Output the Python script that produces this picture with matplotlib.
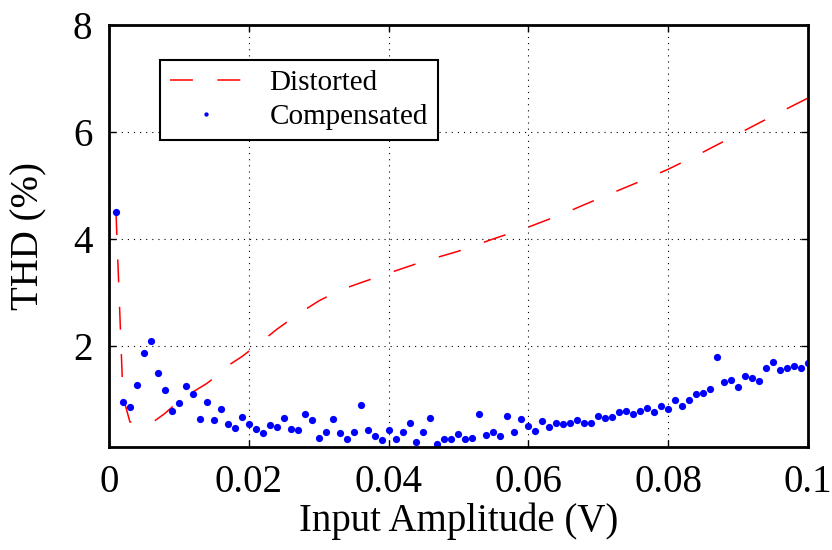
import numpy as np
import matplotlib
matplotlib.use('Agg')
import matplotlib.pyplot as plt

# THD vs input amplitude, distorted vs compensated
plt.rcParams['font.family'] = ['Liberation Serif', 'DejaVu Serif']

dist_x = [0.001, 0.002, 0.003, 0.004, 0.005, 0.006, 0.008, 0.010, 0.012, 0.014,
          0.016, 0.017, 0.019, 0.022, 0.024, 0.027, 0.030, 0.033, 0.036, 0.040,
          0.045, 0.050, 0.055, 0.060, 0.065, 0.070, 0.075, 0.080, 0.085, 0.090,
          0.095, 0.100]
dist_thd = [4.50, 1.05, 0.58, 0.57, 0.56, 0.55, 0.74, 0.97, 1.14, 1.30,
            1.50, 1.63, 1.80, 2.10, 2.31, 2.59, 2.84, 3.04, 3.18, 3.36,
            3.58, 3.77, 4.00, 4.22, 4.47, 4.75, 5.02, 5.30, 5.62, 5.96,
            6.30, 6.63]

comp_x = np.arange(1, 101) / 1000.0
comp_thd = [4.50, 0.95, 0.86, 1.28, 1.86, 2.09, 1.50, 1.18, 0.79, 0.94,
            1.25, 1.11, 0.63, 0.95, 0.62, 0.83, 0.54, 0.47, 0.68, 0.54,
            0.45, 0.37, 0.52, 0.49, 0.66, 0.45, 0.43, 0.73, 0.62, 0.29,
            0.39, 0.63, 0.38, 0.27, 0.40, 0.90, 0.43, 0.32, 0.24, 0.43,
            0.27, 0.40, 0.57, 0.21, 0.39, 0.66, 0.16, 0.27, 0.27, 0.35,
            0.26, 0.29, 0.72, 0.34, 0.40, 0.31, 0.70, 0.39, 0.64, 0.51,
            0.41, 0.59, 0.49, 0.57, 0.54, 0.57, 0.61, 0.57, 0.57, 0.69,
            0.65, 0.67, 0.76, 0.79, 0.73, 0.79, 0.84, 0.76, 0.88, 0.82,
            1.00, 0.88, 0.99, 1.10, 1.12, 1.20, 1.79, 1.33, 1.36, 1.24,
            1.44, 1.41, 1.35, 1.58, 1.70, 1.55, 1.58, 1.62, 1.58, 1.69]

xticks = [0, 0.02, 0.04, 0.06, 0.08, 0.1]
xticklabels = ['0', '0.02', '0.04', '0.06', '0.08', '0.1']
yticks = [2, 4, 6, 8]

fig = plt.figure(figsize=(8.32, 5.5), dpi=100)
ax = fig.add_axes([0.131, 0.187, 0.84, 0.768])

ax.plot(dist_x, dist_thd, color='red', lw=1.1, dashes=(15, 16),
        label='Distorted')
ax.plot(comp_x, comp_thd, linestyle='none', marker='o', ms=5.2,
        mfc='blue', mec='none', label='Compensated')

ax.set_xlim(0, 0.1)
ax.set_ylim(0.11, 8)
ax.set_xticks(xticks)
ax.set_xticklabels(xticklabels)
ax.set_yticks(yticks)

ax.grid(True, color='black', lw=0.8, linestyle=(0, (1, 4.5)))
ax.tick_params(direction='in', top=True, right=True, length=5, width=1,
               labelsize=28, pad=12)
for s in ax.spines.values():
    s.set_linewidth(2)

ax.set_xlabel('Input Amplitude (V)', fontsize=28, labelpad=1)
ax.set_ylabel('THD (%)', fontsize=28, labelpad=18)

leg = ax.legend(loc='upper left', bbox_to_anchor=(0.073, 0.917),
                borderaxespad=0, fontsize=21, fancybox=False,
                edgecolor='black', framealpha=1, handlelength=2.45,
                handletextpad=0.95, labelspacing=0.25, borderpad=0.35,
                markerscale=0.6)
leg.get_frame().set_linewidth(1.5)

fig.savefig('out.png', dpi=100)
